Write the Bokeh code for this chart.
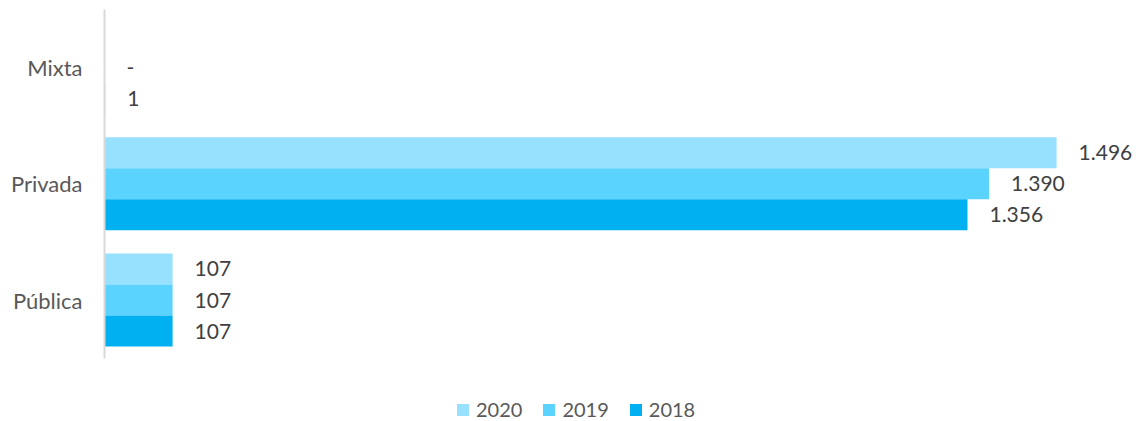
from bokeh.plotting import figure
from bokeh.models import ColumnDataSource, Range1d, Legend, LegendItem, FixedTicker
from bokeh.core.properties import value
from bokeh.embed import file_html
from bokeh.resources import INLINE

categories = ["Mixta", "Privada", "Pública"]
years = ["2020", "2019", "2018"]
v2020 = [None, 1496, 107]
v2019 = [0, 1390, 107]
v2018 = [1, 1356, 107]
colors = ["#97E1FF", "#5BD3FF", "#00B0F0"]

FONT = "Lato"
n = len(categories)
ypos = [n - 0.5 - i for i in range(n)]  # category band centres, top to bottom

p = figure(width=1136, height=421, output_backend="svg", toolbar_location=None,
           y_range=Range1d(-0.5456, n), x_range=Range1d(0, 1621.6),
           min_border_left=104, min_border_right=0, min_border_top=9, min_border_bottom=0)
p.outline_line_color = None
p.xgrid.visible = False
p.ygrid.visible = False
p.xaxis.visible = False
p.background_fill_color = None
p.border_fill_color = "white"

ax = p.yaxis[0]
ax.ticker = FixedTicker(ticks=ypos)
ax.major_label_overrides = {y: c for y, c in zip(ypos, categories)}
ax.bounds = (0, n)
ax.axis_line_color = "#D9D9D9"
ax.axis_line_width = 2
ax.major_tick_line_color = None
ax.minor_tick_line_color = None
ax.major_tick_out = 0
ax.major_tick_in = 0
ax.major_label_standoff = 22
ax.major_label_text_font = FONT
ax.major_label_text_font_size = "22px"
ax.major_label_text_color = "#595959"

bar_h = 0.267
offsets = [bar_h, 0.0, -bar_h]
series = [v2020, v2019, v2018]

def fmt(v):
    if v == 0:
        return "-"
    return f"{v:,}".replace(",", ".")

items = []
for yr, vals, col, off in zip(years, series, colors, offsets):
    xs = [float("nan") if v is None else v for v in vals]
    ys = [y + off for y in ypos]
    src = ColumnDataSource(dict(y=ys, val=xs))
    r = p.hbar(y="y", right="val", left=0, height=bar_h,
               fill_color=col, line_color=None, source=src)
    items.append(LegendItem(label=yr, renderers=[r]))
    ly = [y for y, v in zip(ys, vals) if v is not None]
    lv = [v for v in vals if v is not None]
    lsrc = ColumnDataSource(dict(y=ly, val=lv, txt=[fmt(v) for v in lv]))
    p.text(x="val", y="y", text="txt", source=lsrc,
           x_offset=22, text_align="left", text_baseline="middle",
           text_font=value(FONT), text_font_size="21px", text_color="#404040")

legend = Legend(items=items, orientation="horizontal", location=(351, 0),
                border_line_color=None, background_fill_alpha=0,
                glyph_width=15, glyph_height=15, label_standoff=6, spacing=19,
                padding=0, margin=0,
                label_text_font=FONT, label_text_font_size="20px", label_text_color="#595959")
p.add_layout(legend)

open("out.html", "w").write(file_html(p, INLINE))
